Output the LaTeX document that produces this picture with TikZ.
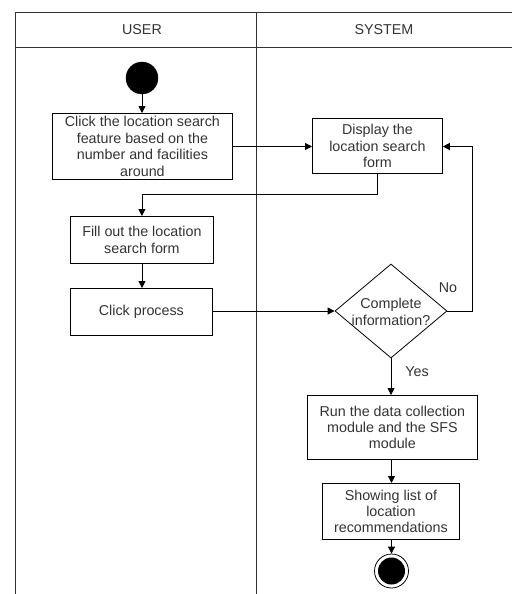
\documentclass[tikz,border=0pt]{standalone}
\usepackage{fontspec}
\setmainfont{Liberation Sans}
\usetikzlibrary{shapes.geometric,arrows.meta}
\definecolor{txt}{HTML}{333333}
\begin{document}
\begin{tikzpicture}[x=1pt,y=-1pt,
  font=\fontsize{14.3}{16.4}\selectfont,
  actbox/.style={draw=black, line width=0.8pt, text=txt, align=center, inner sep=0pt, anchor=north west},
  flow/.style={draw=black, line width=0.8pt, -{Triangle[length=7pt,width=7pt]}},
  lane/.style={draw=black!80, line width=0.9pt},
  lbl/.style={text=txt}]
\useasboundingbox (0,0) rectangle (512,594);
% swimlanes
\draw[lane] (15,594) -- (15,12) -- (512,12);
\draw[lane] (15,47) -- (512,47);
\draw[lane] (256,12) -- (256,594);
\node[lbl] (huser) at (142,30) {USER};
\node[lbl] (hsys) at (384,30) {SYSTEM};
% start
\node[circle, fill=black, draw=black, minimum size=32pt, inner sep=0pt] (start) at (142,78) {};
% boxes
\node[actbox, minimum width=180pt, minimum height=66pt] (b1) at (52,113) {Click the location search\\feature based on the\\number and facilities\\around};
\node[actbox, minimum width=130pt, minimum height=55pt] (b2) at (312,118) {Display the\\location search\\form};
\node[actbox, minimum width=143pt, minimum height=47pt] (b3) at (70,216) {Fill out the location\\search form};
\node[actbox, minimum width=142pt, minimum height=47pt] (b4) at (70,288) {Click process};
\node[diamond, draw=black, line width=0.8pt, text=txt, align=center, inner sep=0pt, minimum width=112pt, minimum height=94pt] (d) at (391,311) {};
\node[text=txt, align=center] (dt) at (391,312) {Complete\\information?};
\node[actbox, minimum width=170pt, minimum height=64pt] (b5) at (307,395) {Run the data collection\\module and the SFS\\module};
\node[actbox, minimum width=137pt, minimum height=56pt] (b6) at (322,483) {Showing list of\\location\\recommendations};
% end
\node[circle, draw=black, line width=0.8pt, minimum size=34pt, inner sep=0pt] (endo) at (391.5,571) {};
\node[circle, fill=black, minimum size=27pt, inner sep=0pt] (endi) at (391.5,571) {};
% flows
\draw[flow] (start) -- (start |- b1.north);
\draw[flow] (b1.east |- 0,146.5) -- (b2.west |- 0,146.5);
\coordinate (c1) at (b2.south |- 0,194.5);
\draw[flow] (b2.south) -- (c1) -- (c1 -| b3.north) -- (b3.north);
\draw[flow] (b3.south -| 142,0) -- (142,288);
\draw[flow] (b4.east |- d.west) -- (d.west);
\coordinate (c2) at (472,311);
\draw[flow] (d.east) -- (c2) -- (472,146.5) -- (b2.east |- 0,146.5);
\draw[flow] (d.south) -- (b5.north -| d.south);
\draw[flow] (b5.south -| 391.5,0) -- (391.5,483);
\draw[flow] (b6.south -| 391.5,0) -- (endo.north);
% labels
\node[lbl] (no) at (448,288) {No};
\node[lbl] (yes) at (417,372) {Yes};
\end{tikzpicture}
\end{document}
